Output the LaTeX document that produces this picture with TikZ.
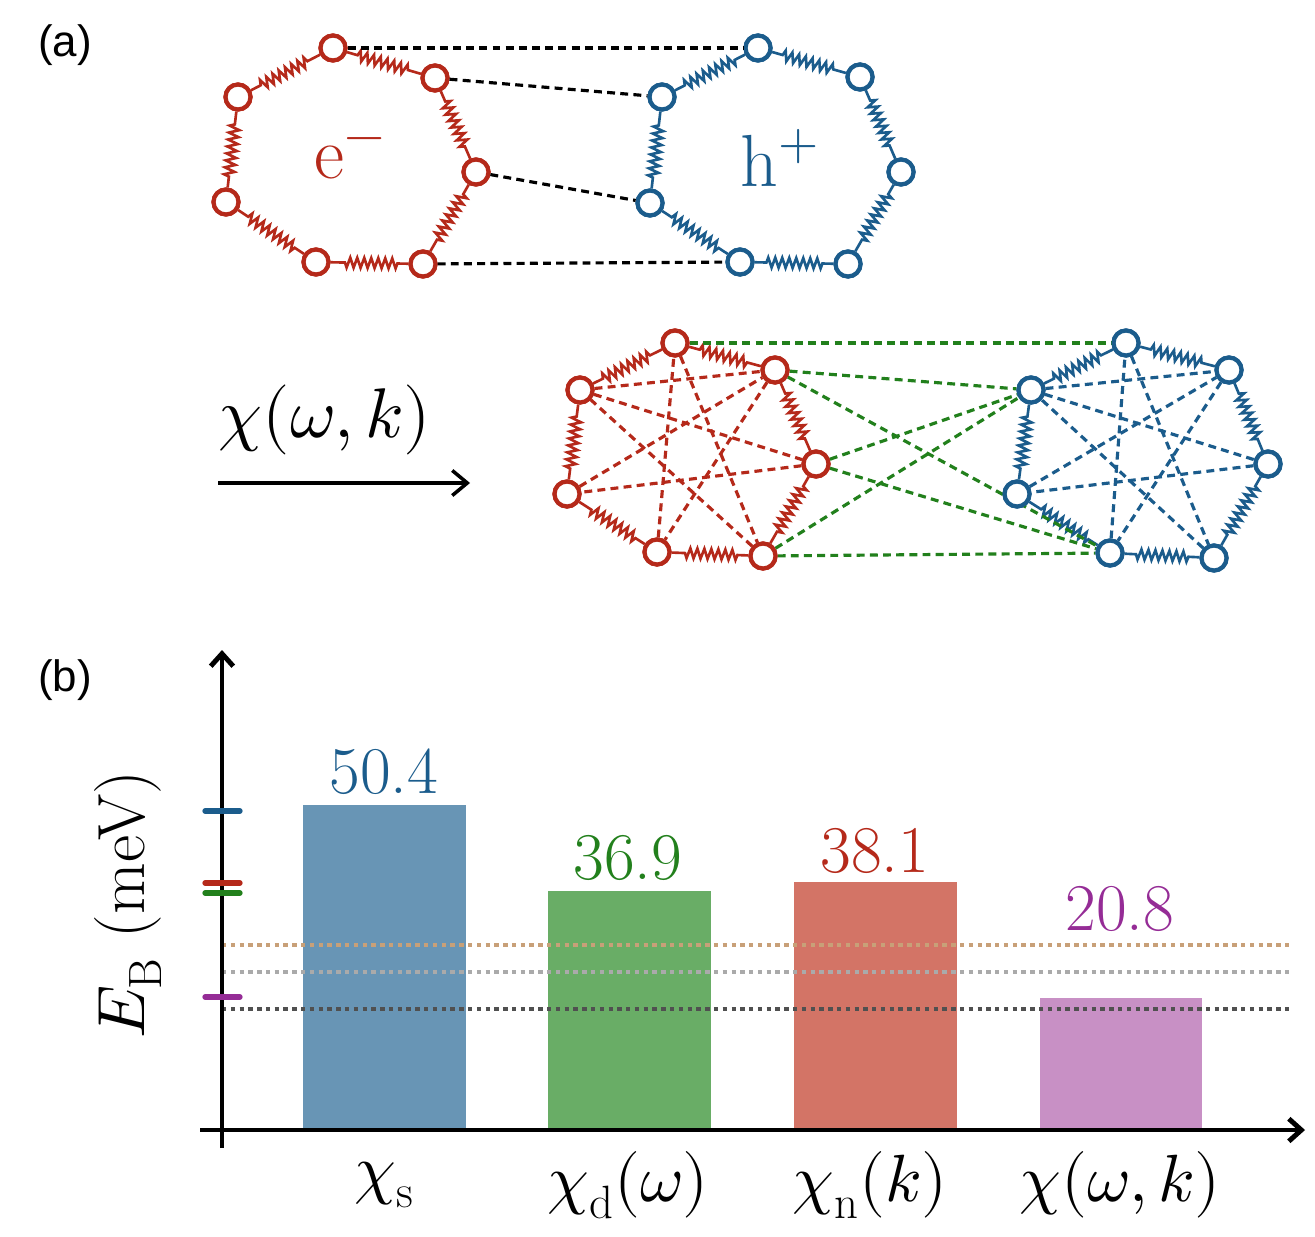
\documentclass[tikz,border=0pt]{standalone}
\usepackage{fontspec}
\usepackage{unicode-math}
\newfontfamily\hel{Liberation Sans}
\usetikzlibrary{decorations.pathmorphing,arrows.meta}
\definecolor{cr}{HTML}{B5291A}
\definecolor{cb}{HTML}{1B5C8C}
\definecolor{cg}{HTML}{22801C}
\definecolor{cp}{HTML}{952C96}
\definecolor{fb}{HTML}{6895B5}
\definecolor{fg}{HTML}{69AD66}
\definecolor{fr}{HTML}{D37466}
\definecolor{fp}{HTML}{C890C5}
\definecolor{ltan}{HTML}{C8A078}
\definecolor{lgray}{HTML}{AAAAAA}
\definecolor{dgray}{HTML}{505050}
\tikzset{
 ball/.style={circle,draw=#1,line width=2.4pt,minimum size=0.5cm,inner sep=0pt,fill=white},
 spring/.style={draw=#1,line width=1.5pt,decorate,decoration={zigzag,segment length=0.14cm,amplitude=0.1cm,pre length=0.22cm,post length=0.22cm}},
 bond/.style={draw=#1,line width=1.8pt,dash pattern=on 4.5pt off 3pt},
 lvl/.style={draw=#1,line width=2.4pt,dash pattern=on 2.5pt off 2.5pt},
 bar/.style={fill=#1,draw=none},
}
\begin{document}
\begin{tikzpicture}[x=0.02cm,y=-0.02cm]
\useasboundingbox (0,0) rectangle (1315,1237);
% top molecules
\foreach \n/\x/\y in {1/333/48,2/435/78,3/476/172,4/423/264,5/316/262,6/226/202,7/238/97}
  \node[ball=cr] (r\n) at (\x,\y) {};
\foreach \n/\x/\y in {1/758/48,2/860/77,3/901/172,4/848/264,5/740/262,6/650/203,7/662/97}
  \node[ball=cb] (b\n) at (\x,\y) {};
\foreach \a/\b in {1/2,2/3,3/4,4/5,5/6,6/7,7/1}{
  \path[spring=cr] (r\a) -- (r\b);
  \path[spring=cb] (b\a) -- (b\b);}
\foreach \n in {1,...,7}{\node[ball=cr] at (r\n) {};\node[ball=cb] at (b\n) {};}
\draw[bond=black] (r1) -- (b1);
\draw[bond=black] (r2) -- (b7);
\draw[bond=black] (r3) -- (b6);
\draw[bond=black] (r4) -- (b5);
\node[text=cr,font=\fontsize{42}{42}\selectfont] (e) at (350,158) {e$^{-}$};
\node[text=cb,font=\fontsize{42}{42}\selectfont] (h) at (780,158) {h$^{+}$};
\node[font=\hel\fontsize{25}{25}\selectfont] (la) at (65,45) {(a)};
% arrow
\node[font=\fontsize{40}{40}\selectfont] (chi) at (325,420) {$\chi(\omega,k)$};
\coordinate (a1) at (218,483); \coordinate (a2) at (470,483);
\draw[line width=2pt,-{Straight Barb[length=0.3cm,width=0.5cm]}] (a1) -- (a2);
% lower molecules
\foreach \n/\x/\y in {1/675/343,2/775/370,3/816/464,4/763/556,5/657/552,6/567/494,7/580/390}
  \node[ball=cr] (s\n) at (\x,\y) {};
\foreach \n/\x/\y in {1/1126/343,2/1229/370,3/1268/464,4/1214/558,5/1110/553,6/1017/494,7/1031/390}
  \node[ball=cb] (t\n) at (\x,\y) {};
\foreach \a/\b in {1/2,2/3,3/4,4/5,5/6,6/7,7/1}{
  \path[spring=cr] (s\a) -- (s\b);
  \path[spring=cb] (t\a) -- (t\b);}
\foreach \a/\b in {1/4,2/5,3/6,4/7,5/1,6/2,7/3,7/2}{
  \draw[bond=cr] (s\a) -- (s\b);
  \draw[bond=cb] (t\a) -- (t\b);}
\draw[bond=cg] (s1) -- (t1);
\foreach \a in {2,3,4}{\draw[bond=cg] (s\a) -- (t7); \draw[bond=cg] (s\a) -- (t5);}
\foreach \n in {1,...,7}{\node[ball=cr] at (s\n) {};\node[ball=cb] at (t\n) {};}
% panel b
\node[font=\hel\fontsize{25}{25}\selectfont] (lb) at (65,680) {(b)};
\node[bar=fb,minimum width=163*0.02cm,minimum height=325*0.02cm,inner sep=0,anchor=south west] (B1) at (303,1130) {};
\node[bar=fg,minimum width=163*0.02cm,minimum height=239*0.02cm,inner sep=0,anchor=south west] (B2) at (548,1130) {};
\node[bar=fr,minimum width=163*0.02cm,minimum height=248*0.02cm,inner sep=0,anchor=south west] (B3) at (794,1130) {};
\node[bar=fp,minimum width=162*0.02cm,minimum height=132*0.02cm,inner sep=0,anchor=south west] (B4) at (1040,1130) {};
\coordinate (l1a) at (222,945); \coordinate (l1b) at (1290,945);
\coordinate (l2a) at (222,972); \coordinate (l2b) at (1290,972);
\coordinate (l3a) at (222,1009); \coordinate (l3b) at (1290,1009);
\draw[lvl=ltan] (l1a) -- (l1b);
\draw[lvl=lgray] (l2a) -- (l2b);
\draw[lvl=dgray] (l3a) -- (l3b);
\coordinate (o) at (222,1130); \coordinate (ytop) at (222,650); \coordinate (xend) at (1305,1130);
\coordinate (ybot) at (222,1148); \coordinate (xst) at (200,1130);
\draw[line width=2.8pt,-{Straight Barb[length=0.25cm,width=0.45cm]}] (ybot) -- (ytop);
\draw[line width=2.8pt,-{Straight Barb[length=0.25cm,width=0.45cm]}] (xst) -- (xend);
\foreach \y/\c in {811/cb,883/cr,893/cg,997/cp}{
  \coordinate (t1\y) at (205,\y); \coordinate (t2\y) at (240,\y);
  \draw[\c,line width=3pt,line cap=round] (t1\y) -- (t2\y);}
\node[font=\fontsize{38}{38}\selectfont,text=cb] (v1) at (384,772) {50.4};
\node[font=\fontsize{38}{38}\selectfont,text=cg] (v2) at (628,858) {36.9};
\node[font=\fontsize{38}{38}\selectfont,text=cr] (v3) at (875,851) {38.1};
\node[font=\fontsize{38}{38}\selectfont,text=cp] (v4) at (1120,909) {20.8};
\node[font=\fontsize{38}{38}\selectfont,rotate=90] (yl) at (128,905) {$E_{\mathrm{B}}$ (meV)};
\node[font=\fontsize{38}{38}\selectfont] (x1) at (384,1185) {$\chi_{\mathrm{s}}$};
\node[font=\fontsize{38}{38}\selectfont] (x2) at (628,1185) {$\chi_{\mathrm{d}}(\omega)$};
\node[font=\fontsize{38}{38}\selectfont] (x3) at (870,1185) {$\chi_{\mathrm{n}}(k)$};
\node[font=\fontsize{38}{38}\selectfont] (x4) at (1120,1185) {$\chi(\omega,k)$};
\end{tikzpicture}
\end{document}
